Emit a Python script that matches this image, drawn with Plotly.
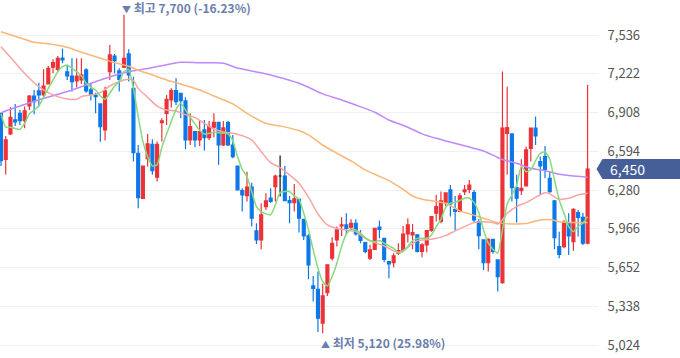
import plotly.graph_objects as go

# ---- data ----
day = list(range(125))
opens = [6902,6529,6735,6848,6902,6843,6961,7042,7083,7050,7140,7275,7258,7350,7237,7204,7164,7172,7253,7091,
         7050,6978,6767,7240,7366,7245,7275,7383,7104,6578,6213,6535,6651,6384,6826,6902,7010,7086,7064,7002,
         6686,6754,6686,6767,6705,6789,6829,6645,6826,6645,6475,6276,6235,6303,5949,5876,6146,6214,6308,6394,
         6394,6195,6178,6205,6043,5908,5503,5476,5201,5449,5728,5876,5989,5997,5979,6011,5916,5854,5728,5800,
         5979,5889,5700,5692,5768,5790,5924,5916,5916,5782,5836,5952,6092,6025,6178,6281,6124,6106,6267,6286,
         6259,6025,5876,5692,5881,5714,5530,6740,6735,6300,6276,6313,6618,6781,6511,6551,6375,6192,5822,5822,
         6011,5862,6097,6059,5849]
highs = [6902,6718,6951,6978,6929,6956,7050,7091,7150,7258,7285,7339,7366,7428,7294,7348,7348,7348,7267,7150,
         7069,6978,7118,7456,7383,7267,7700,7420,7199,6645,6475,6735,6691,6673,6861,7050,7104,7185,7069,7032,
         6902,6754,6848,6848,6840,6902,6829,6840,6840,6727,6475,6294,6429,6340,6011,6173,6254,6294,6403,6559,
         6475,6232,6329,6205,6043,5924,5584,5620,5520,5674,5898,5984,6059,6092,6043,6043,5957,5862,5836,5970,
         6033,5889,5700,5768,5849,5989,6052,6005,5924,5849,5957,6070,6240,6268,6257,6321,6232,6254,6321,6362,
         6281,6043,5876,5889,5881,5714,7240,7118,6740,6403,6529,6632,6781,6875,6551,6637,6435,6200,5943,6038,
         6092,6132,6119,6097,7131]
lows = [6475,6405,6727,6799,6808,6781,6929,6894,6956,7032,7140,7226,7240,7307,7172,7078,7113,7140,7069,7005,
        6902,6672,6681,7172,7226,7078,7267,7159,6511,6133,6208,6470,6403,6349,6673,6808,6948,6969,6861,6610,
        6645,6627,6637,6600,6686,6705,6484,6637,6637,6538,6281,6106,6187,5984,5843,5800,6119,6178,6187,6227,
        6195,6011,6106,5935,5876,5557,5377,5130,5120,5422,5709,5822,5908,5916,5957,5911,5849,5768,5714,5795,
        5889,5695,5565,5655,5754,5790,5854,5800,5773,5735,5776,5943,6025,6011,6151,6065,5952,6100,6240,6254,
        6011,5800,5633,5620,5763,5457,5520,6403,6187,6016,6240,6308,6511,6645,6240,6375,6259,5800,5728,5808,
        5754,5789,5903,5835,5841]
closes = [6519,6686,6870,6832,6843,6921,7042,6997,7050,7123,7267,7312,7348,7334,7204,7159,7204,7213,7083,7056,
          7037,6794,7083,7375,7329,7177,7348,7213,6583,6219,6475,6654,6438,6651,6840,7015,7086,6997,7005,6686,
          6794,6686,6754,6705,6794,6829,6645,6783,6645,6551,6281,6241,6303,6052,5876,6079,6192,6187,6394,6394,
          6195,6178,6208,6052,5908,5674,5484,5242,5422,5674,5849,5957,5997,5970,6011,5924,5871,5782,5795,5970,
          5962,5719,5682,5746,5790,5924,5997,5935,5782,5836,5952,6065,6146,6192,6257,6168,6106,6232,6281,6321,
          6038,5911,5692,5881,5782,5579,6781,6786,6300,6214,6294,6605,6781,6718,6475,6448,6267,5895,5759,6019,
          5908,6124,6059,5849,6450]

ma5 = [6897,6789,6789,6778,6772,6821,6897,6929,6961,7032,7104,7172,7240,7280,7294,7267,7240,7204,7145,7113,
       7091,7042,7015,7064,7123,7159,7240,7258,7104,6875,6672,6551,6475,6484,6627,6735,6835,6934,6983,6929,
       6870,6816,6762,6735,6740,6748,6745,6740,6735,6681,6551,6448,6389,6268,6146,6106,6087,6079,6160,6259,
       6268,6268,6232,6205,6092,5957,5795,5646,5539,5503,5579,5687,5822,5924,5962,5957,5930,5895,5871,5862,
       5871,5849,5827,5808,5773,5782,5822,5871,5887,5889,5889,5916,5984,6043,6141,6173,6181,6195,6214,6214,
       6178,6097,5957,5849,5800,5768,5957,6168,6240,6321,6470,6429,6443,6518,6578,6591,6529,6362,6200,6092,
       5984,5943,5984,6011,6065]

ma20_day = [0,2,4,6,8,10,12,14,16,17,19,21,23,25,27,28,29,31,33,35,37,39,41,43,45,47,49,51,53,55,57,59,61,63,
            65,67,69,71,73,75,77,79,81,83,84,86,88,91,94,96,98,100,102,104,105,106,107,109,111,113,115,116,118,
            120,122,124]
ma20 = [7442,7356,7267,7186,7118,7069,7037,7018,7015,7037,7050,7069,7123,7159,7177,7167,7104,7032,6961,6929,
        6921,6891,6867,6821,6775,6751,6740,6721,6686,6592,6502,6462,6402,6335,6222,6087,5997,5968,5957,5943,
        5889,5854,5827,5787,5773,5816,5870,5881,5911,5949,5984,6016,6024,6016,6005,6038,6092,6146,6178,6221,
        6259,6249,6205,6213,6240,6254]

ma60_day = [0,3,7,10,14,17,21,24,27,29,31,35,38,42,45,49,52,56,59,63,65,68,71,74,77,79,82,85,87,89,92,94,97,
            99,102,105,108,111,113,116,118,121,124]
ma60 = [7563,7526,7477,7466,7437,7396,7348,7312,7283,7250,7226,7172,7140,7091,7042,6978,6902,6821,6799,6762,
        6727,6645,6578,6516,6443,6408,6357,6286,6232,6205,6187,6173,6111,6087,6052,6016,6005,6008,6030,6041,
        6024,6016,6016]

ma120_day = [0,7,14,21,26,31,35,38,42,45,47,50,54,57,61,63,65,68,72,75,79,82,86,89,92,94,99,102,106,109,112,
             115,118,122,124]
ma120 = [6907,6999,7078,7172,7231,7264,7296,7315,7312,7312,7307,7269,7237,7212,7169,7145,7113,7059,7010,6969,
         6910,6848,6789,6735,6699,6678,6629,6597,6527,6497,6456,6437,6408,6391,6383]

y_ticks = [5024, 5338, 5652, 5966, 6280, 6594, 6908, 7222, 7536]
hi_text = "<span style='font-size:9px'>▼</span> 최고 7,700 (-16.23%)"
lo_text = "<span style='font-size:9px'>▲</span> 최저 5,120 (25.98%)"

# ---- styles ----
RED = "#EC3237"
BLUE = "#0C78E8"
FONT = "Noto Sans CJK KR"

fig = go.Figure()

# moving averages (under the candles)
fig.add_trace(go.Scatter(x=ma120_day, y=ma120, mode="lines", line=dict(color="#BE8AFA", width=1.5, shape="spline", smoothing=0.8), hoverinfo="skip"))
fig.add_trace(go.Scatter(x=ma60_day, y=ma60, mode="lines", line=dict(color="#FBB678", width=1.5, shape="spline", smoothing=0.8), hoverinfo="skip"))
fig.add_trace(go.Scatter(x=ma20_day, y=ma20, mode="lines", line=dict(color="#F9A3A3", width=1.5, shape="spline", smoothing=0.8), hoverinfo="skip"))
fig.add_trace(go.Scatter(x=day, y=ma5, mode="lines", line=dict(color="#86DA7E", width=1.5, shape="spline", smoothing=0.5), hoverinfo="skip"))

# candles (doji drawn separately in black)
doji = [o == c for o, c in zip(opens, closes)]
mask = lambda arr, keep: [v if k else None for v, k in zip(arr, keep)]
normal = [not d for d in doji]
fig.add_trace(go.Candlestick(
    x=day, open=mask(opens, normal), high=mask(highs, normal), low=mask(lows, normal), close=mask(closes, normal),
    increasing=dict(line=dict(color=RED, width=1.2), fillcolor=RED),
    decreasing=dict(line=dict(color=BLUE, width=1.2), fillcolor=BLUE),
    whiskerwidth=0, hoverinfo="skip"))
fig.add_trace(go.Candlestick(
    x=day, open=mask(opens, doji), high=mask(highs, doji), low=mask(lows, doji), close=mask(closes, doji),
    increasing=dict(line=dict(color="#111111", width=1.2), fillcolor="#111111"),
    decreasing=dict(line=dict(color="#111111", width=1.2), fillcolor="#111111"),
    whiskerwidth=0, hoverinfo="skip"))

# high / low markers
i_hi = highs.index(max(highs))
i_lo = lows.index(min(lows))
LBL = "#6A7EAE"
fig.add_annotation(x=i_hi, y=max(highs), yshift=7, xshift=-4, xanchor="left", yanchor="middle",
                   text=hi_text, showarrow=False, font=dict(family=FONT, size=12, color=LBL, weight="bold"))
fig.add_annotation(x=i_lo, y=min(lows), yshift=-9, xshift=-4, xanchor="left", yanchor="middle",
                   text=lo_text, showarrow=False, font=dict(family=FONT, size=12, color=LBL, weight="bold"))

# current price tag
last = closes[-1]
half = 81
fig.add_shape(type="path", xref="paper", yref="y",
              path=f"M 0.9975,{last} L 1.0075,{last+half} L 1.14,{last+half} L 1.14,{last-half} L 1.0075,{last-half} Z",
              fillcolor="#465F98", line=dict(width=0), layer="above")
fig.add_annotation(xref="paper", x=1.016, y=last, xanchor="left", yanchor="middle",
                   text=f"{last:,}", showarrow=False, font=dict(family=FONT, size=14, color="white"))

fig.update_layout(
    width=680, height=358,
    margin=dict(l=0, r=82, t=0, b=0),
    paper_bgcolor="white", plot_bgcolor="white",
    showlegend=False, boxgap=0.12,
    xaxis=dict(range=[-0.21, 126.2], showgrid=False, zeroline=False, showticklabels=False,
               rangeslider=dict(visible=False), fixedrange=True),
    yaxis=dict(range=[4919, 7820], side="right", tickvals=y_ticks, ticktext=[f"{v:,}" for v in y_ticks],
               showgrid=True, gridcolor="#EEF0F3", gridwidth=1, zeroline=False,
               ticks="outside", ticklen=6, tickcolor="rgba(0,0,0,0)",
               tickfont=dict(family=FONT, size=13, color="#555555")),
)

fig.write_html("out.html", config={"displayModeBar": False},
               post_script="document.body.style.margin='0';document.body.style.overflow='hidden';")
